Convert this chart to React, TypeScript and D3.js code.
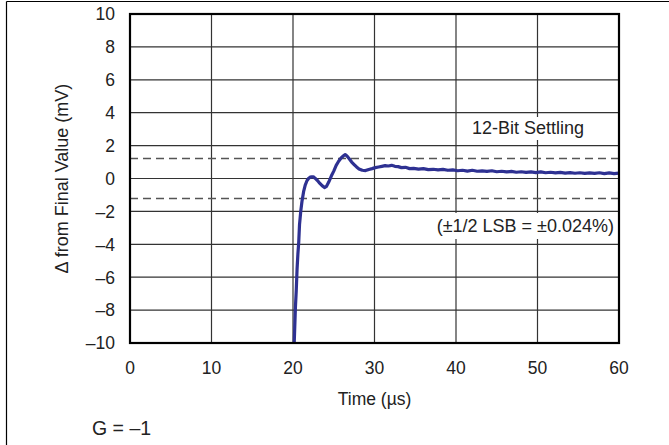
import React from "react";
import * as d3 from "d3";

const timeUs = [
  20.1, 20.15, 20.3, 20.4, 20.5, 20.6, 20.7, 20.8, 20.95, 21.1, 21.3, 21.5, 21.7, 21.9, 22.1, 22.3, 22.5, 22.7,
  23.0, 23.3, 23.6, 23.9, 24.1, 24.4, 24.7, 25.0, 25.3, 25.6, 25.9, 26.2, 26.4, 26.6, 26.9, 27.2, 27.5, 27.8,
  28.1, 28.5, 28.9, 29.3, 29.7, 30.1, 30.5, 30.9, 31.3, 31.7, 32.1, 32.5, 32.9, 33.3, 33.8, 34.3, 34.8, 35.4,
  36.0, 36.6, 37.2, 37.8, 38.4, 39.0, 39.6, 40.2, 40.8, 41.4, 42.0, 42.6, 43.2, 43.8, 44.4, 45.0, 45.6, 46.2,
  46.8, 47.4, 48.0, 48.6, 49.2, 49.8, 50.4, 51.0, 51.6, 52.2, 52.8, 53.4, 54.0, 54.6, 55.2, 55.8, 56.4, 57.0,
  57.6, 58.2, 58.8, 59.4, 60.0,
];
const deltaMv = [
  -10.6, -10, -7.8, -6.8, -5.5, -4.6, -3.9, -2.8, -2.0, -1.4, -0.8, -0.4, -0.15, 0.0, 0.08, 0.1, 0.1, 0.02,
  -0.12, -0.3, -0.45, -0.55, -0.48, -0.2, 0.15, 0.45, 0.8, 1.05, 1.25, 1.38, 1.45, 1.38, 1.2, 1.0, 0.85, 0.7,
  0.58, 0.5, 0.48, 0.55, 0.6, 0.66, 0.7, 0.74, 0.78, 0.76, 0.8, 0.74, 0.72, 0.66, 0.68, 0.6, 0.62, 0.57,
  0.6, 0.54, 0.56, 0.52, 0.55, 0.5, 0.52, 0.47, 0.5, 0.45, 0.5, 0.44, 0.46, 0.43, 0.47, 0.41, 0.44, 0.4,
  0.43, 0.38, 0.41, 0.37, 0.4, 0.36, 0.4, 0.35, 0.38, 0.34, 0.37, 0.33, 0.36, 0.32, 0.35, 0.31, 0.34, 0.31,
  0.35, 0.3, 0.34, 0.3, 0.33,
];

const xTicks = [0, 10, 20, 30, 40, 50, 60];
const yTicks = [10, 8, 6, 4, 2, 0, -2, -4, -6, -8, -10];
const settleBand = [1.22, -1.22];

const W = 669;
const H = 445;
const left = 130;
const right = 619;
const top = 14;
const bottom = 343;
const font = "'Liberation Sans', Arial, Helvetica, sans-serif";

const fmt = (v: number) => (v < 0 ? "\u2013" + Math.abs(v) : String(v));

export default function App() {
  const x = d3.scaleLinear().domain([0, 60]).range([left, right]);
  const y = d3.scaleLinear().domain([-10, 10]).range([bottom, top]);
  const pts: [number, number][] = timeUs.map((t, i) => [t, deltaMv[i]]);
  const line = d3
    .line<[number, number]>()
    .x((d) => x(d[0]))
    .y((d) => y(d[1]));

  return (
    <svg
      width={W}
      height={H}
      style={{ position: "absolute", left: 0, top: 0, background: "#fff", display: "block" }}
      fontFamily={font}
    >
      <rect x={0} y={0} width={W} height={H} fill="#fff" />
      {/* outer frame */}
      <line x1={6.5} y1={1.5} x2={W} y2={1.5} stroke="#000" strokeWidth={1.2} />
      <line x1={6.5} y1={1.5} x2={6.5} y2={H} stroke="#000" strokeWidth={1.2} />

      <defs>
        <clipPath id="plotClip">
          <rect x={left} y={top} width={right - left} height={bottom - top} />
        </clipPath>
      </defs>

      {/* grid */}
      {xTicks.map((t) => (
        <line key={"gx" + t} x1={x(t)} x2={x(t)} y1={top} y2={bottom} stroke="#333" strokeWidth={1.2} />
      ))}
      {yTicks.map((t) => (
        <line key={"gy" + t} x1={left} x2={right} y1={y(t)} y2={y(t)} stroke="#333" strokeWidth={1.2} />
      ))}

      {/* settling band */}
      {settleBand.map((v) => (
        <line
          key={"sb" + v}
          x1={left}
          x2={right}
          y1={y(v)}
          y2={y(v)}
          stroke="#555"
          strokeWidth={1.5}
          strokeDasharray="8,5"
        />
      ))}

      {/* annotations with white background */}
      <rect x={468} y={117} width={121} height={23} fill="#fff" />
      <text x={528} y={134} textAnchor="middle" fontSize={18} fill="#222">
        12-Bit Settling
      </text>
      <rect x={430} y={213} width={186} height={26} fill="#fff" />
      <text x={614} y={232} textAnchor="end" fontSize={18} fill="#222">
        (±1/2 LSB = ±0.024%)
      </text>

      {/* curve */}
      <g clipPath="url(#plotClip)">
        <path
          d={line(pts) || ""}
          fill="none"
          stroke="#2E3192"
          strokeWidth={3.2}
          strokeLinejoin="round"
          strokeLinecap="round"
        />
      </g>

      {/* plot border */}
      <rect x={left} y={top} width={right - left} height={bottom - top} fill="none" stroke="#000" strokeWidth={2.2} />

      {/* y ticks */}
      {yTicks.map((t) => (
        <text key={"ty" + t} x={115} y={y(t)} dy="0.36em" textAnchor="end" fontSize={17.5} fill="#222">
          {fmt(t)}
        </text>
      ))}
      {/* x ticks */}
      {xTicks.map((t) => (
        <text key={"tx" + t} x={x(t)} y={374} textAnchor="middle" fontSize={17.5} fill="#222">
          {fmt(t)}
        </text>
      ))}

      <text x={(left + right) / 2} y={405} textAnchor="middle" fontSize={17.5} fill="#222">
        Time (µs)
      </text>
      <text
        transform={`translate(68, ${(top + bottom) / 2}) rotate(-90)`}
        textAnchor="middle"
        fontSize={18}
        fill="#222"
      >
        Δ from Final Value (mV)
      </text>
      <text x={92} y={435} fontSize={19.5} fill="#222">
        G = –1
      </text>
    </svg>
  );
}
